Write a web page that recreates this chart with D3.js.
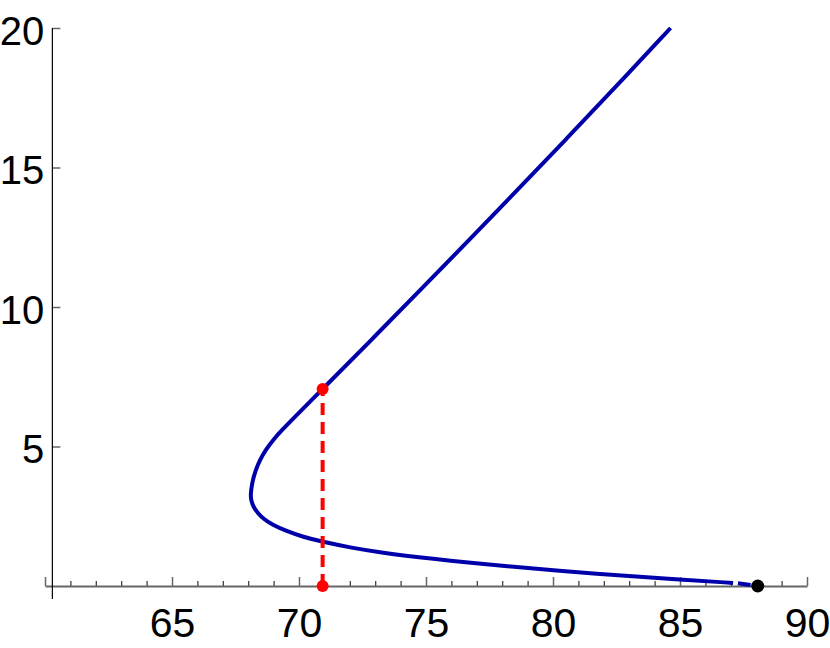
<!DOCTYPE html>
<html>
<head>
<meta charset="utf-8">
<script src="https://cdn.jsdelivr.net/npm/d3@7"></script>
<style>
  html, body { margin: 0; padding: 0; background: #fff; }
  svg { display: block; }
  text { font-family: "Liberation Sans", Arial, sans-serif; }
</style>
</head>
<body>
<script>
// ---- data ----
const curveX = [84.63, 82.39, 80.52, 78.64, 76.74, 74.82, 72.88, 70.93, 70.50, 70.09, 69.70, 69.33, 69.01, 68.71, 68.46, 68.28, 68.15, 68.09, 68.12, 68.21, 68.37, 68.61, 68.96, 69.53, 70.16, 70.89, 72.01, 73.19, 75.16, 77.91, 81.85, 85.00, 87.09];
const curveY = [20.00, 17.81, 16.02, 14.23, 12.44, 10.65, 8.85, 7.06, 6.67, 6.29, 5.93, 5.59, 5.27, 4.91, 4.52, 4.12, 3.69, 3.26, 3.05, 2.83, 2.62, 2.40, 2.19, 1.96, 1.76, 1.59, 1.38, 1.20, 0.98, 0.72, 0.42, 0.23, 0.11];
const tailX = [87.28, 87.78];
const tailY = [0.097, 0.036];
const markerX = 70.93;
const markerYs = [0, 7.06];
const fixedPointX = 88.06;
const xMajorTicks = [60, 65, 70, 75, 80, 85, 90];
const xMinorTicks = d3.range(61, 90).filter(v => v % 5 !== 0);
const yMajorTicks = [5, 10, 15, 20];

// ---- layout ----
const W = 830, H = 648;
const x = d3.scaleLinear().domain([60, 90]).range([45, 807]);
const y = d3.scaleLinear().domain([0, 20]).range([586, 28]);
const yAxisAt = 60.29;
const FONT = '"Liberation Sans", Arial, sans-serif';

const svg = d3.select("body").append("svg").attr("width", W).attr("height", H);

// x axis: minor ticks
const xAx = svg.append("g").attr("transform", `translate(0,${y(0)})`);
xAx.call(d3.axisBottom(x).tickValues(xMinorTicks).tickSizeInner(-5).tickSizeOuter(0).tickFormat(""));
xAx.selectAll(".tick line").attr("stroke", "#333").attr("stroke-width", 1.2);
xAx.select(".domain").remove();
// x axis: major ticks, line and labels
const xAxM = svg.append("g").attr("transform", `translate(0,${y(0)})`);
xAxM.call(d3.axisBottom(x).tickValues(xMajorTicks).tickSizeInner(-9).tickSizeOuter(0)
  .tickFormat(d => d === 60 ? "" : d3.format("d")(d)));
xAxM.select(".domain").attr("stroke", "#666").attr("stroke-width", 2);
xAxM.selectAll(".tick line").attr("stroke", "#666").attr("stroke-width", 1.5);
xAxM.selectAll(".tick text").attr("y", 51).attr("dy", null)
  .attr("font-size", 41).attr("fill", "#000").style("font-family", FONT);

// y axis
const yAx = svg.append("g").attr("transform", `translate(${x(yAxisAt)},0)`);
yAx.call(d3.axisLeft(y).tickValues(yMajorTicks).tickSizeInner(-8).tickSizeOuter(0).tickPadding(8));
yAx.select(".domain").remove();
yAx.selectAll(".tick line").attr("stroke", "#666").attr("stroke-width", 1.5);
yAx.selectAll(".tick text").attr("dy", "0.4em").attr("font-size", 40).attr("fill", "#000")
  .style("font-family", FONT);
yAx.append("line").attr("x1", 0).attr("x2", 0).attr("y1", y(20)).attr("y2", y(0) + 13)
  .attr("stroke", "#000").attr("stroke-width", 1.2);

// curve
const pts = curveX.map((v, i) => [v, curveY[i]]);
const line = d3.line().x(d => x(d[0])).y(d => y(d[1])).curve(d3.curveBasis);
svg.append("path").datum(pts).attr("d", line)
  .attr("fill", "none").attr("stroke", "#0000aa").attr("stroke-width", 4)
  .attr("stroke-linejoin", "round");
const tail = tailX.map((v, i) => [v, tailY[i]]);
svg.append("path").datum(tail).attr("d", d3.line().x(d => x(d[0])).y(d => y(d[1])))
  .attr("fill", "none").attr("stroke", "#0000aa").attr("stroke-width", 4);

// red dashed vertical
svg.append("line")
  .attr("x1", x(markerX)).attr("x2", x(markerX))
  .attr("y1", y(markerYs[0])).attr("y2", y(markerYs[1]))
  .attr("stroke", "#ff0000").attr("stroke-width", 4).attr("stroke-dasharray", "12,7");
svg.selectAll("circle.red").data(markerYs).enter().append("circle")
  .attr("class", "red").attr("cx", x(markerX)).attr("cy", d => y(d)).attr("r", 6)
  .attr("fill", "#ff0000");

// black fixed point
svg.append("circle").attr("cx", x(fixedPointX)).attr("cy", y(0)).attr("r", 6.5).attr("fill", "#000");
</script>
</body>
</html>
